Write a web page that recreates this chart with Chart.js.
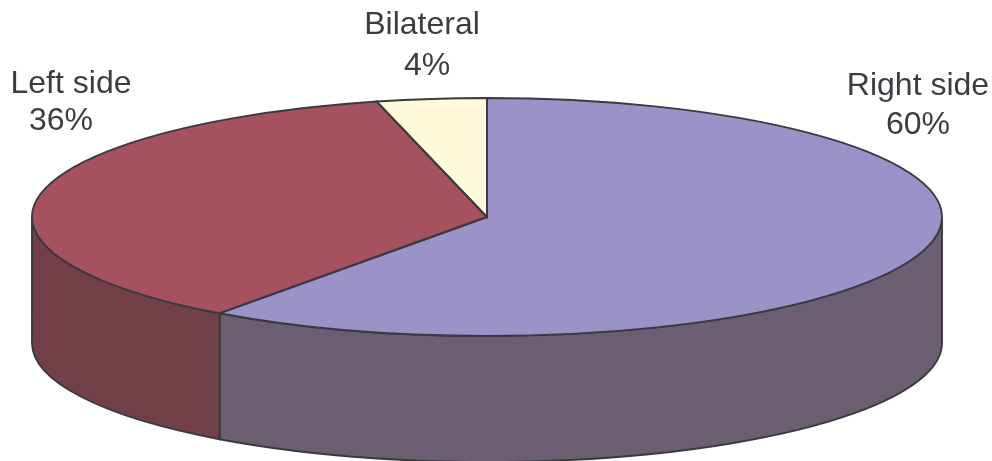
<!DOCTYPE html>
<html>
<head>
<meta charset="utf-8">
<style>
  html, body { margin: 0; padding: 0; background: #fff; }
  #wrap { position: relative; width: 992px; height: 461px; }
</style>
<script src="https://cdn.jsdelivr.net/npm/chart.js@4"></script>
</head>
<body>
<div id="wrap"><canvas id="pieChart"></canvas></div>
<script>
const categories = ["Right side", "Left side", "Bilateral"];
const shares = [60, 36.1, 3.9];
const topColors = ["#9b93c8", "#a5525e", "#fffadb"];
const sideColors = ["#6b5e70", "#724048", "#8a8570"];
const nameSpots = [[918, 86], [71, 84], [422, 25]];
const shareSpots = [[918, 125], [61, 121], [427, 66]];

// ellipse of the tilted pie, px
const cx = 487, cy = 217, rx = 455, ry = 119, depth = 126;
const edge = "#3a3a40";
const edgeWidth = 1.9;

// the pie itself is a plain circle, these hooks stretch it and add the wall
const tiltPlugin = {
  id: "tilt",
  beforeDatasetsDraw(chart) {
    const ctx = chart.ctx;
    const arcs = chart.getDatasetMeta(0).data;
    // side wall, only the front half of the rim shows
    arcs.forEach((arc, i) => {
      const a = Math.max(arc.startAngle, 0);
      const b = Math.min(arc.endAngle, Math.PI);
      if (b <= a) return;
      ctx.beginPath();
      ctx.ellipse(cx, cy, rx, ry, 0, a, b);
      ctx.ellipse(cx, cy + depth, rx, ry, 0, b, a, true);
      ctx.closePath();
      ctx.fillStyle = sideColors[i];
      ctx.fill();
      ctx.lineWidth = edgeWidth;
      ctx.strokeStyle = edge;
      ctx.stroke();
    });
    const p = arcs[0];
    ctx.save();
    ctx.translate(cx, cy);
    ctx.scale(rx / p.outerRadius, ry / p.outerRadius);
    ctx.translate(-p.x, -p.y);
  },
  afterDatasetsDraw(chart) {
    const ctx = chart.ctx;
    ctx.restore();
    // outlines after the transform so the line width stays even
    chart.getDatasetMeta(0).data.forEach((arc) => {
      ctx.beginPath();
      ctx.moveTo(cx, cy);
      ctx.ellipse(cx, cy, rx, ry, 0, arc.startAngle, arc.endAngle);
      ctx.closePath();
      ctx.lineWidth = edgeWidth;
      ctx.strokeStyle = edge;
      ctx.stroke();
    });
    // labels
    ctx.font = "32px 'Liberation Sans'";
    ctx.fillStyle = "#3c3c42";
    ctx.textAlign = "center";
    ctx.textBaseline = "middle";
    categories.forEach((name, i) => {
      ctx.fillText(name, nameSpots[i][0], nameSpots[i][1]);
      ctx.fillText(Math.round(shares[i]) + "%", shareSpots[i][0], shareSpots[i][1]);
    });
  }
};

new Chart(document.getElementById("pieChart"), {
  type: "pie",
  data: {
    labels: categories,
    datasets: [{ data: shares, backgroundColor: topColors, borderWidth: 0 }]
  },
  options: {
    responsive: true,
    maintainAspectRatio: false,
    animation: false,
    layout: { padding: 0 },
    plugins: { legend: { display: false }, tooltip: { enabled: false } }
  },
  plugins: [tiltPlugin]
});
</script>
</body>
</html>
